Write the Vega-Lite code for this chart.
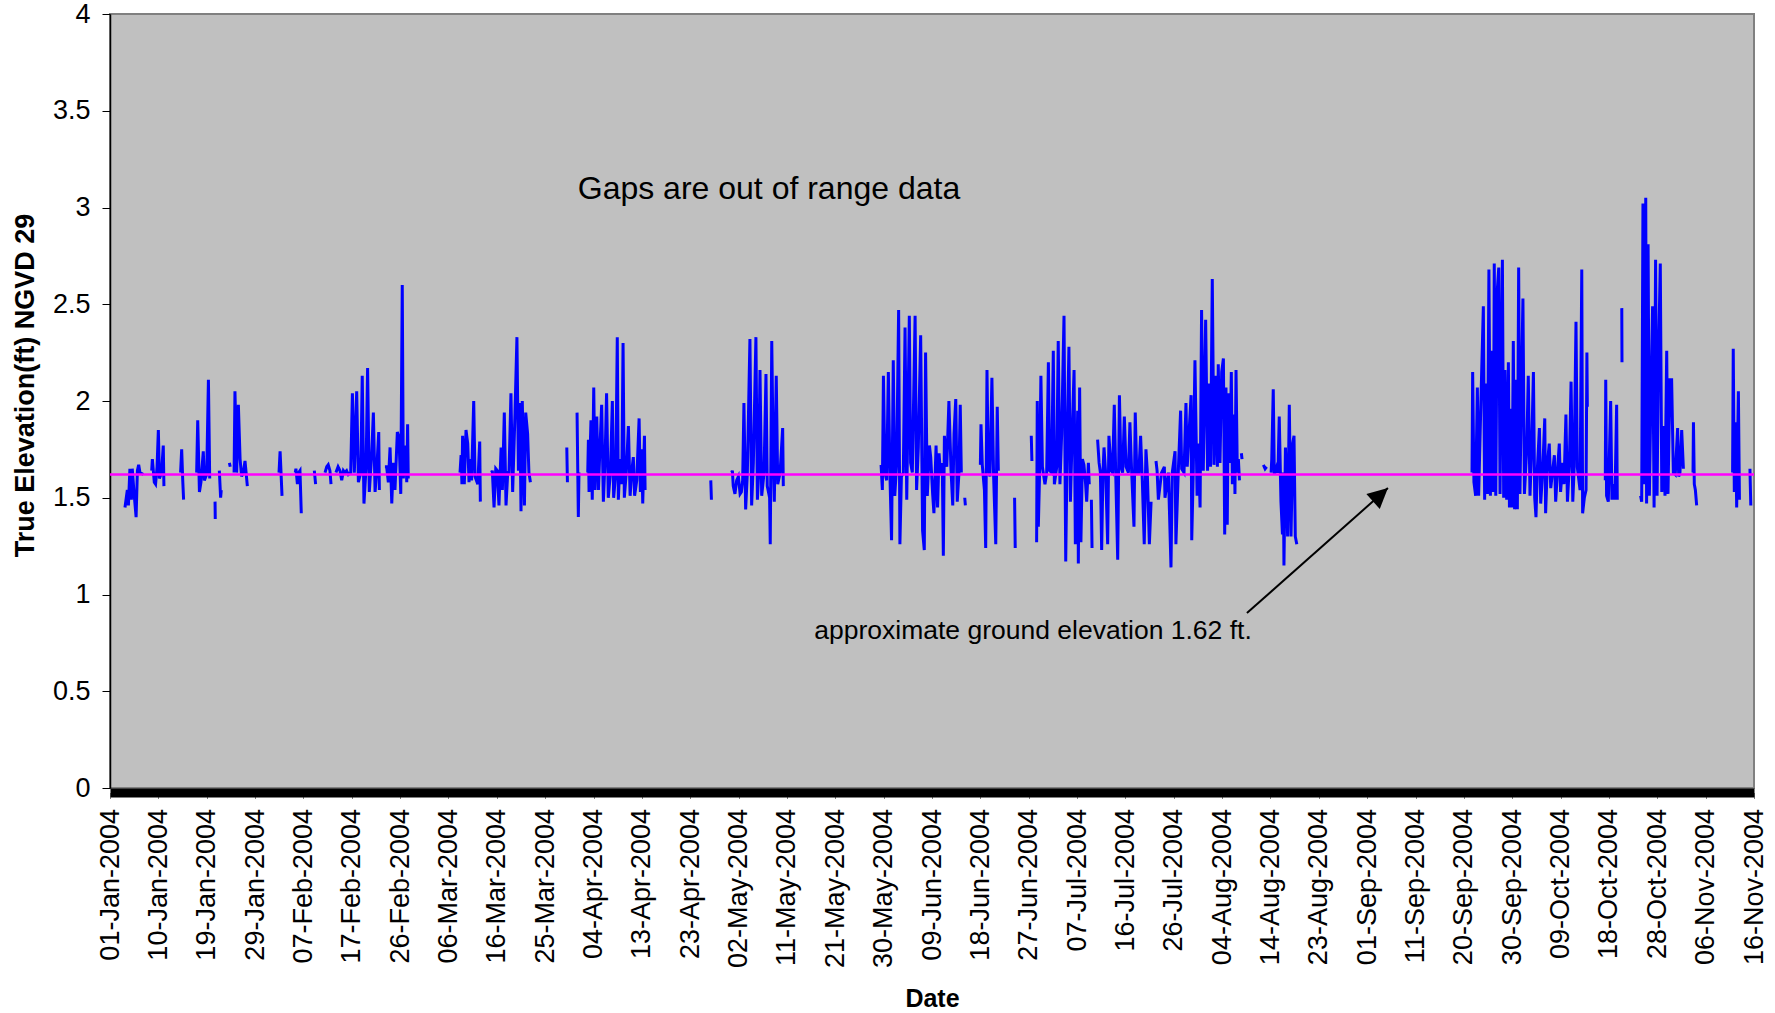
{
  "$schema": "https://vega.github.io/schema/vega-lite/v6.json",
  "width": 1644,
  "height": 774,
  "autosize": "none",
  "padding": {"left": 110, "top": 14, "right": 21, "bottom": 225},
  "background": "white",
  "config": {
    "view": {"fill": "#C0C0C0", "stroke": "#808080", "strokeWidth": 2},
    "font": "Liberation Sans"
  },
  "layer": [
    {
      "data": {
        "values": [
          {"h":70,"v":1.45},{"h":81,"v":1.54},{"h":86,"v":1.46},{"h":93,"v":1.65},{"h":100,"v":1.49},{"h":104,"v":1.65},{"h":112,"v":1.53},{"h":122,"v":1.40},{"h":128,"v":1.64},{"h":134,"v":1.67},{"h":140,"v":1.63},{"h":156,"v":1.62},{"h":175,"v":null},
          {"h":195,"v":1.64},{"h":198,"v":1.70},{"h":207,"v":1.58},{"h":213,"v":1.57},{"h":220,"v":1.66},{"h":226,"v":1.85},{"h":231,"v":1.60},{"h":241,"v":1.63},{"h":249,"v":1.77},{"h":252,"v":1.56},{"h":290,"v":null},
          {"h":330,"v":1.63},{"h":335,"v":1.75},{"h":340,"v":1.59},{"h":344,"v":1.49},{"h":375,"v":null},
          {"h":405,"v":1.63},{"h":410,"v":1.90},{"h":418,"v":1.53},{"h":425,"v":1.58},{"h":436,"v":1.74},{"h":441,"v":1.59},{"h":452,"v":1.62},{"h":460,"v":2.11},{"h":466,"v":1.60},{"h":480,"v":null},
          {"h":491,"v":1.48},{"h":492,"v":1.39},{"h":500,"v":null},
          {"h":511,"v":1.64},{"h":517,"v":1.50},{"h":520,"v":1.54},{"h":540,"v":null},
          {"h":558,"v":1.68},{"h":562,"v":1.66},{"h":570,"v":null},
          {"h":580,"v":1.63},{"h":584,"v":2.05},{"h":589,"v":1.82},{"h":592,"v":1.63},{"h":600,"v":1.98},{"h":608,"v":1.70},{"h":615,"v":1.61},{"h":623,"v":1.63},{"h":631,"v":1.69},{"h":642,"v":1.56},{"h":700,"v":null},
          {"h":790,"v":1.63},{"h":795,"v":1.74},{"h":799,"v":1.64},{"h":804,"v":1.51},{"h":830,"v":null},
          {"h":866,"v":1.63},{"h":869,"v":1.65},{"h":876,"v":1.57},{"h":882,"v":1.63},{"h":888,"v":1.64},{"h":894,"v":1.42},{"h":920,"v":null},
          {"h":955,"v":1.64},{"h":961,"v":1.57},{"h":980,"v":null},
          {"h":1005,"v":1.63},{"h":1013,"v":1.66},{"h":1020,"v":1.67},{"h":1028,"v":1.64},{"h":1033,"v":1.57},{"h":1045,"v":null},
          {"h":1056,"v":1.63},{"h":1066,"v":1.66},{"h":1075,"v":1.64},{"h":1083,"v":1.59},{"h":1091,"v":1.64},{"h":1098,"v":1.63},{"h":1106,"v":1.64},{"h":1114,"v":1.62},{"h":1125,"v":1.63},{"h":1133,"v":2.04},{"h":1142,"v":1.63},{"h":1153,"v":2.05},{"h":1161,"v":1.58},{"h":1172,"v":1.63},{"h":1179,"v":2.13},{"h":1187,"v":1.47},{"h":1197,"v":1.66},{"h":1204,"v":2.17},{"h":1212,"v":1.53},{"h":1223,"v":1.72},{"h":1231,"v":1.94},{"h":1239,"v":1.53},{"h":1246,"v":1.63},{"h":1256,"v":1.84},{"h":1259,"v":1.54},{"h":1272,"v":null},
          {"h":1285,"v":1.66},{"h":1293,"v":1.66},{"h":1301,"v":1.58},{"h":1309,"v":1.76},{"h":1317,"v":1.47},{"h":1324,"v":1.68},{"h":1332,"v":1.54},{"h":1343,"v":1.84},{"h":1351,"v":1.81},{"h":1359,"v":1.52},{"h":1366,"v":2.60},{"h":1371,"v":1.60},{"h":1382,"v":1.77},{"h":1387,"v":1.58},{"h":1391,"v":1.88},{"h":1394,"v":1.60},{"h":1500,"v":null},
          {"h":1636,"v":1.63},{"h":1641,"v":1.72},{"h":1645,"v":1.57},{"h":1648,"v":1.82},{"h":1656,"v":1.57},{"h":1664,"v":1.85},{"h":1672,"v":1.78},{"h":1678,"v":1.58},{"h":1683,"v":1.70},{"h":1690,"v":1.59},{"h":1700,"v":2.00},{"h":1706,"v":1.61},{"h":1719,"v":1.57},{"h":1728,"v":1.79},{"h":1731,"v":1.48},{"h":1760,"v":null},
          {"h":1784,"v":1.63},{"h":1787,"v":1.64},{"h":1795,"v":1.45},{"h":1803,"v":1.65},{"h":1810,"v":1.64},{"h":1818,"v":1.46},{"h":1828,"v":1.76},{"h":1834,"v":1.54},{"h":1843,"v":1.94},{"h":1851,"v":1.46},{"h":1859,"v":1.63},{"h":1865,"v":1.63},{"h":1874,"v":2.04},{"h":1882,"v":1.53},{"h":1893,"v":1.94},{"h":1902,"v":2.33},{"h":1909,"v":1.64},{"h":1915,"v":1.99},{"h":1921,"v":1.43},{"h":1927,"v":2.00},{"h":1937,"v":1.46},{"h":1943,"v":1.94},{"h":1952,"v":1.83},{"h":1958,"v":1.63},{"h":1965,"v":1.58},{"h":2050,"v":null},
          {"h":2135,"v":1.76},{"h":2138,"v":1.58},{"h":2160,"v":null},
          {"h":2183,"v":1.94},{"h":2189,"v":1.40},{"h":2192,"v":1.63},{"h":2210,"v":null},
          {"h":2233,"v":1.63},{"h":2236,"v":1.80},{"h":2239,"v":1.53},{"h":2248,"v":1.90},{"h":2254,"v":1.49},{"h":2261,"v":2.07},{"h":2267,"v":1.54},{"h":2275,"v":1.92},{"h":2283,"v":1.54},{"h":2290,"v":1.76},{"h":2298,"v":1.98},{"h":2306,"v":1.48},{"h":2314,"v":1.70},{"h":2321,"v":2.04},{"h":2329,"v":1.50},{"h":2339,"v":1.63},{"h":2348,"v":2.00},{"h":2354,"v":1.50},{"h":2364,"v":1.63},{"h":2371,"v":2.33},{"h":2376,"v":1.49},{"h":2384,"v":1.70},{"h":2392,"v":1.57},{"h":2398,"v":2.30},{"h":2404,"v":1.50},{"h":2413,"v":1.63},{"h":2423,"v":1.87},{"h":2431,"v":1.51},{"h":2438,"v":1.63},{"h":2446,"v":1.71},{"h":2452,"v":1.51},{"h":2462,"v":1.59},{"h":2473,"v":1.91},{"h":2479,"v":1.53},{"h":2485,"v":1.75},{"h":2490,"v":1.47},{"h":2498,"v":1.82},{"h":2501,"v":1.54},{"h":2650,"v":null},
          {"h":2808,"v":1.59},{"h":2811,"v":1.49},{"h":2850,"v":null},
          {"h":2906,"v":1.63},{"h":2909,"v":1.64},{"h":2913,"v":1.56},{"h":2921,"v":1.52},{"h":2929,"v":1.59},{"h":2937,"v":1.61},{"h":2945,"v":1.52},{"h":2951,"v":1.53},{"h":2957,"v":1.59},{"h":2963,"v":1.99},{"h":2971,"v":1.44},{"h":2979,"v":1.63},{"h":2991,"v":2.32},{"h":2999,"v":1.46},{"h":3007,"v":1.68},{"h":3019,"v":2.33},{"h":3026,"v":1.49},{"h":3032,"v":1.63},{"h":3038,"v":2.16},{"h":3046,"v":1.51},{"h":3057,"v":1.63},{"h":3066,"v":2.14},{"h":3072,"v":1.56},{"h":3083,"v":1.50},{"h":3086,"v":1.26},{"h":3093,"v":2.31},{"h":3100,"v":1.71},{"h":3105,"v":1.48},{"h":3114,"v":2.13},{"h":3121,"v":1.57},{"h":3132,"v":1.63},{"h":3144,"v":1.86},{"h":3147,"v":1.56},{"h":3400,"v":null},
          {"h":3604,"v":1.67},{"h":3610,"v":1.54},{"h":3615,"v":2.13},{"h":3622,"v":1.63},{"h":3630,"v":1.59},{"h":3638,"v":2.15},{"h":3646,"v":1.59},{"h":3653,"v":1.28},{"h":3661,"v":2.21},{"h":3668,"v":1.51},{"h":3677,"v":1.68},{"h":3686,"v":2.47},{"h":3692,"v":1.26},{"h":3699,"v":1.61},{"h":3708,"v":1.63},{"h":3716,"v":2.38},{"h":3724,"v":1.49},{"h":3736,"v":2.44},{"h":3742,"v":1.68},{"h":3750,"v":1.63},{"h":3763,"v":2.44},{"h":3770,"v":1.54},{"h":3778,"v":1.76},{"h":3789,"v":2.34},{"h":3798,"v":1.33},{"h":3806,"v":1.23},{"h":3812,"v":2.25},{"h":3820,"v":1.51},{"h":3830,"v":1.77},{"h":3836,"v":1.71},{"h":3845,"v":1.52},{"h":3851,"v":1.42},{"h":3861,"v":1.77},{"h":3868,"v":1.45},{"h":3875,"v":1.73},{"h":3882,"v":1.62},{"h":3890,"v":1.68},{"h":3895,"v":1.20},{"h":3900,"v":1.82},{"h":3911,"v":1.66},{"h":3921,"v":2.00},{"h":3931,"v":1.64},{"h":3939,"v":1.46},{"h":3945,"v":1.83},{"h":3953,"v":2.01},{"h":3960,"v":1.48},{"h":3968,"v":1.63},{"h":3974,"v":1.98},{"h":3979,"v":1.63},{"h":3988,"v":null},
          {"h":3995,"v":1.50},{"h":3998,"v":1.46},{"h":4030,"v":null},
          {"h":4068,"v":1.67},{"h":4071,"v":1.88},{"h":4077,"v":1.67},{"h":4087,"v":1.54},{"h":4093,"v":1.24},{"h":4099,"v":2.16},{"h":4105,"v":1.66},{"h":4113,"v":1.61},{"h":4122,"v":2.12},{"h":4130,"v":1.61},{"h":4140,"v":1.26},{"h":4147,"v":1.97},{"h":4152,"v":1.64},{"h":4190,"v":null},
          {"h":4228,"v":1.50},{"h":4231,"v":1.24},{"h":4270,"v":null},
          {"h":4306,"v":1.82},{"h":4309,"v":1.69},{"h":4320,"v":null},
          {"h":4331,"v":1.27},{"h":4334,"v":2.00},{"h":4339,"v":1.35},{"h":4345,"v":1.63},{"h":4351,"v":2.13},{"h":4358,"v":1.66},{"h":4370,"v":1.57},{"h":4378,"v":1.63},{"h":4386,"v":2.20},{"h":4392,"v":1.64},{"h":4401,"v":1.63},{"h":4409,"v":2.26},{"h":4414,"v":1.57},{"h":4425,"v":1.66},{"h":4432,"v":2.31},{"h":4440,"v":1.57},{"h":4448,"v":1.83},{"h":4459,"v":2.44},{"h":4467,"v":1.17},{"h":4475,"v":1.87},{"h":4482,"v":2.28},{"h":4489,"v":1.48},{"h":4498,"v":1.86},{"h":4506,"v":2.16},{"h":4512,"v":1.26},{"h":4518,"v":1.63},{"h":4523,"v":1.95},{"h":4526,"v":1.16},{"h":4532,"v":2.07},{"h":4538,"v":1.27},{"h":4545,"v":1.70},{"h":4552,"v":1.67},{"h":4560,"v":1.57},{"h":4565,"v":1.48},{"h":4573,"v":1.68},{"h":4577,"v":1.57},{"h":4582,"v":null},
          {"h":4587,"v":1.49},{"h":4590,"v":1.24},{"h":4600,"v":null},
          {"h":4616,"v":1.80},{"h":4623,"v":1.68},{"h":4629,"v":1.63},{"h":4635,"v":1.23},{"h":4641,"v":1.63},{"h":4646,"v":1.76},{"h":4654,"v":1.62},{"h":4663,"v":1.26},{"h":4669,"v":1.82},{"h":4679,"v":1.64},{"h":4686,"v":1.63},{"h":4694,"v":1.98},{"h":4700,"v":1.66},{"h":4710,"v":1.18},{"h":4718,"v":2.03},{"h":4725,"v":1.66},{"h":4733,"v":1.63},{"h":4741,"v":1.92},{"h":4749,"v":1.66},{"h":4760,"v":1.63},{"h":4767,"v":1.89},{"h":4775,"v":1.64},{"h":4786,"v":1.35},{"h":4792,"v":1.94},{"h":4799,"v":1.63},{"h":4809,"v":1.63},{"h":4817,"v":1.82},{"h":4825,"v":1.59},{"h":4834,"v":1.26},{"h":4842,"v":1.75},{"h":4848,"v":1.64},{"h":4858,"v":1.26},{"h":4866,"v":1.48},{"h":4878,"v":null},
          {"h":4889,"v":1.69},{"h":4894,"v":1.64},{"h":4900,"v":1.49},{"h":4915,"v":1.63},{"h":4928,"v":1.66},{"h":4931,"v":1.50},{"h":4947,"v":1.63},{"h":4959,"v":1.14},{"h":4965,"v":1.63},{"h":4978,"v":1.74},{"h":4982,"v":1.26},{"h":4993,"v":1.63},{"h":5004,"v":1.95},{"h":5009,"v":1.65},{"h":5020,"v":1.63},{"h":5029,"v":1.99},{"h":5035,"v":1.66},{"h":5053,"v":2.03},{"h":5056,"v":1.28},{"h":5063,"v":1.63},{"h":5071,"v":2.21},{"h":5081,"v":1.51},{"h":5087,"v":1.78},{"h":5095,"v":1.45},{"h":5102,"v":2.47},{"h":5110,"v":1.64},{"h":5121,"v":2.42},{"h":5130,"v":1.64},{"h":5137,"v":2.09},{"h":5144,"v":1.66},{"h":5152,"v":2.63},{"h":5160,"v":1.67},{"h":5168,"v":2.13},{"h":5176,"v":1.66},{"h":5180,"v":2.19},{"h":5188,"v":1.68},{"h":5196,"v":2.15},{"h":5204,"v":2.22},{"h":5210,"v":1.31},{"h":5216,"v":2.07},{"h":5222,"v":1.36},{"h":5227,"v":2.04},{"h":5235,"v":1.68},{"h":5241,"v":2.15},{"h":5246,"v":1.57},{"h":5254,"v":1.93},{"h":5258,"v":1.52},{"h":5263,"v":2.16},{"h":5269,"v":1.63},{"h":5274,"v":1.70},{"h":5279,"v":1.59},{"h":5284,"v":null},
          {"h":5288,"v":1.73},{"h":5291,"v":1.70},{"h":5340,"v":null},
          {"h":5391,"v":1.67},{"h":5399,"v":1.65},{"h":5406,"v":1.66},{"h":5415,"v":null},
          {"h":5427,"v":1.63},{"h":5430,"v":1.70},{"h":5437,"v":2.06},{"h":5442,"v":1.62},{"h":5453,"v":1.66},{"h":5459,"v":1.63},{"h":5465,"v":1.92},{"h":5473,"v":1.48},{"h":5480,"v":1.31},{"h":5484,"v":1.63},{"h":5487,"v":1.15},{"h":5494,"v":1.76},{"h":5500,"v":1.55},{"h":5504,"v":1.30},{"h":5512,"v":1.98},{"h":5520,"v":1.30},{"h":5528,"v":1.78},{"h":5534,"v":1.82},{"h":5540,"v":1.30},{"h":5547,"v":1.26},{"h":6000,"v":null},
          {"h":6366,"v":1.63},{"h":6369,"v":2.15},{"h":6375,"v":1.58},{"h":6383,"v":1.51},{"h":6391,"v":2.07},{"h":6397,"v":1.51},{"h":6407,"v":1.97},{"h":6419,"v":2.49},{"h":6425,"v":1.49},{"h":6431,"v":2.09},{"h":6438,"v":1.52},{"h":6445,"v":2.68},{"h":6452,"v":1.51},{"h":6460,"v":2.26},{"h":6466,"v":1.53},{"h":6470,"v":2.71},{"h":6477,"v":1.51},{"h":6484,"v":2.57},{"h":6491,"v":2.69},{"h":6497,"v":1.52},{"h":6508,"v":2.73},{"h":6514,"v":1.50},{"h":6520,"v":2.16},{"h":6528,"v":1.49},{"h":6536,"v":2.20},{"h":6541,"v":1.45},{"h":6547,"v":1.96},{"h":6553,"v":1.45},{"h":6559,"v":2.31},{"h":6565,"v":1.44},{"h":6572,"v":2.11},{"h":6578,"v":1.44},{"h":6584,"v":2.69},{"h":6590,"v":1.52},{"h":6598,"v":2.14},{"h":6604,"v":2.53},{"h":6611,"v":1.52},{"h":6622,"v":1.76},{"h":6629,"v":2.13},{"h":6637,"v":1.51},{"h":6645,"v":1.76},{"h":6653,"v":2.15},{"h":6659,"v":1.50},{"h":6665,"v":1.40},{"h":6671,"v":1.64},{"h":6681,"v":1.86},{"h":6687,"v":1.47},{"h":6696,"v":1.63},{"h":6706,"v":1.91},{"h":6710,"v":1.42},{"h":6718,"v":1.67},{"h":6727,"v":1.78},{"h":6734,"v":1.55},{"h":6743,"v":1.64},{"h":6751,"v":1.72},{"h":6757,"v":1.48},{"h":6765,"v":1.63},{"h":6774,"v":1.78},{"h":6780,"v":1.53},{"h":6790,"v":1.68},{"h":6796,"v":1.57},{"h":6805,"v":1.93},{"h":6812,"v":1.48},{"h":6821,"v":1.67},{"h":6829,"v":2.10},{"h":6837,"v":1.48},{"h":6843,"v":1.64},{"h":6852,"v":2.41},{"h":6858,"v":1.66},{"h":6871,"v":1.54},{"h":6879,"v":2.68},{"h":6883,"v":1.42},{"h":6891,"v":1.50},{"h":6899,"v":1.54},{"h":6903,"v":2.25},{"h":6905,"v":1.97},{"h":6950,"v":null},
          {"h":6989,"v":1.59},{"h":6991,"v":2.11},{"h":6995,"v":1.51},{"h":7003,"v":1.48},{"h":7014,"v":2.00},{"h":7020,"v":1.49},{"h":7027,"v":1.57},{"h":7034,"v":1.49},{"h":7042,"v":1.98},{"h":7045,"v":1.49},{"h":7055,"v":null},
          {"h":7066,"v":2.48},{"h":7067,"v":2.20},{"h":7100,"v":null},
          {"h":7154,"v":1.51},{"h":7159,"v":1.48},{"h":7165,"v":3.02},{"h":7171,"v":1.57},{"h":7178,"v":3.05},{"h":7182,"v":1.47},{"h":7189,"v":2.81},{"h":7195,"v":1.51},{"h":7201,"v":1.94},{"h":7210,"v":2.49},{"h":7217,"v":1.45},{"h":7224,"v":2.73},{"h":7231,"v":1.51},{"h":7237,"v":2.18},{"h":7246,"v":2.71},{"h":7253,"v":1.53},{"h":7260,"v":1.87},{"h":7268,"v":1.51},{"h":7276,"v":2.26},{"h":7282,"v":1.52},{"h":7291,"v":2.11},{"h":7299,"v":2.11},{"h":7307,"v":1.63},{"h":7316,"v":1.62},{"h":7327,"v":1.86},{"h":7332,"v":1.61},{"h":7338,"v":1.63},{"h":7346,"v":1.85},{"h":7354,"v":1.65},{"h":7380,"v":null},
          {"h":7399,"v":1.63},{"h":7401,"v":1.89},{"h":7405,"v":1.57},{"h":7410,"v":1.54},{"h":7416,"v":1.46},{"h":7500,"v":null},
          {"h":7584,"v":1.63},{"h":7587,"v":2.27},{"h":7592,"v":1.53},{"h":7598,"v":1.89},{"h":7603,"v":1.45},{"h":7611,"v":2.05},{"h":7616,"v":1.49},{"h":7640,"v":null},
          {"h":7665,"v":1.65},{"h":7669,"v":1.46}
        ]
      },
      "mark": {"type": "line", "color": "#0000FF", "strokeWidth": 3, "invalid": "break-paths-filter-domains"},
      "encoding": {
        "x": {
          "field": "h",
          "type": "quantitative",
          "scale": {"domain": [0, 7684], "nice": false, "zero": false},
          "axis": {
            "values": [0,226,452,678,904,1130,1356,1582,1808,2034,2260,2486,2712,2938,3164,3390,3616,3842,4068,4294,4520,4746,4972,5198,5424,5650,5876,6102,6328,6554,6780,7006,7232,7458,7684],
            "labelExpr": "utcFormat(utc(2004, 0, 1) + datum.value * 3600000, '%d-%b-%Y')",
            "labelAngle": 270,
            "labelFontSize": 27,
            "labelColor": "black",
            "labelPadding": 10,
            "labelOverlap": false,
            "labelBound": false,
            "labelFlush": false,
            "domainColor": "black",
            "domainWidth": 9,
            "offset": 4.5,
            "tickColor": "#808080",
            "tickSize": 6,
            "grid": false,
            "title": "Date",
            "titleFontSize": 25,
            "titleFontWeight": "bold",
            "titleColor": "black",
            "titlePadding": 19
          }
        },
        "y": {
          "field": "v",
          "type": "quantitative",
          "scale": {"domain": [0, 4], "nice": false},
          "axis": {
            "values": [0, 0.5, 1, 1.5, 2, 2.5, 3, 3.5, 4],
            "format": "~g",
            "labelFontSize": 27,
            "labelColor": "black",
            "labelPadding": 12,
            "tickSize": 8,
            "tickColor": "black",
            "domainColor": "black",
            "domainWidth": 1.5,
            "grid": false,
            "title": "True Elevation(ft) NGVD 29",
            "titleFontSize": 27,
            "titleFontWeight": "bold",
            "titleColor": "black",
            "titlePadding": 13,
            "titleY": 371
          }
        }
      }
    },
    {
      "data": {"values": [{"level": 1.62}]},
      "mark": {"type": "rule", "color": "#FF00FF", "strokeWidth": 2.5},
      "encoding": {"y": {"field": "level", "type": "quantitative"}}
    },
    {
      "data": {"values": [{"h0": 5314, "v0": 0.904, "h1": 5973, "v1": 1.55}]},
      "mark": {"type": "rule", "color": "black", "strokeWidth": 2},
      "encoding": {
        "x": {"field": "h0", "type": "quantitative"},
        "y": {"field": "v0", "type": "quantitative"},
        "x2": {"field": "h1"},
        "y2": {"field": "v1"}
      }
    },
    {
      "data": {"values": [{"h1": 5973, "v1": 1.55}]},
      "mark": {"type": "point", "shape": "M0,0L-0.5,1L0.5,1Z", "filled": true, "color": "black", "opacity": 1, "size": 1600, "angle": 48},
      "encoding": {
        "x": {"field": "h1", "type": "quantitative"},
        "y": {"field": "v1", "type": "quantitative"}
      }
    },
    {
      "data": {"values": [
        {"h": 3080, "v": 3.096, "note": "Gaps are out of range data", "size": 32},
        {"h": 4314, "v": 0.813, "note": "approximate ground elevation 1.62 ft.", "size": 26.5}
      ]},
      "mark": {"type": "text", "color": "black", "align": "center", "baseline": "middle"},
      "encoding": {
        "x": {"field": "h", "type": "quantitative"},
        "y": {"field": "v", "type": "quantitative"},
        "text": {"field": "note"},
        "size": {"field": "size", "type": "quantitative", "scale": null}
      }
    }
  ]
}
